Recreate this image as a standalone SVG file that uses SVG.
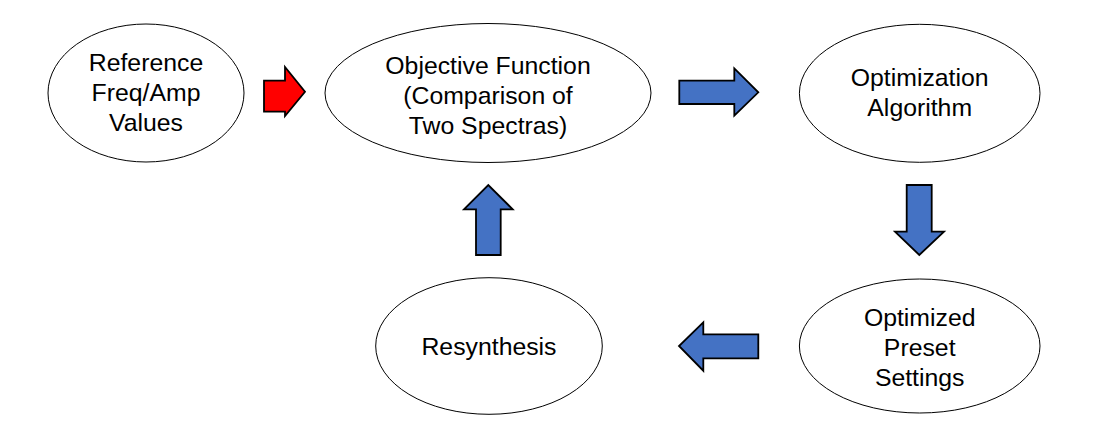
<svg xmlns="http://www.w3.org/2000/svg" width="1101" height="444" viewBox="0 0 1101 444">
<style>
.node ellipse{fill:#ffffff;stroke:#000000;stroke-width:1}
.node text{font-family:"Liberation Sans",Arial,sans-serif;font-size:24.8px;fill:#000000;text-anchor:middle}
.arr{stroke:#000000;stroke-width:1.8;stroke-linejoin:miter}
.blue{fill:#4472C4}
.red{fill:#FF0000}
</style>
<rect width="1101" height="444" fill="#ffffff"/>
<g id="n-reference" class="node">
<ellipse cx="146" cy="93" rx="98" ry="69"/>
<text x="146" y="71">Reference</text>
<text x="146" y="101">Freq/Amp</text>
<text x="146" y="131">Values</text>
</g>
<g id="n-objective" class="node">
<ellipse cx="488" cy="93" rx="163" ry="69.5"/>
<text x="488" y="73.5">Objective Function</text>
<text x="488" y="103.5">(Comparison of</text>
<text x="488" y="133.5">Two Spectras)</text>
</g>
<g id="n-optimization" class="node">
<ellipse cx="919.7" cy="93.3" rx="120.3" ry="69"/>
<text x="919.7" y="86">Optimization</text>
<text x="919.7" y="116">Algorithm</text>
</g>
<g id="n-optimized" class="node">
<ellipse cx="919.7" cy="346" rx="120.3" ry="67"/>
<text x="919.7" y="326">Optimized</text>
<text x="919.7" y="356">Preset</text>
<text x="919.7" y="386">Settings</text>
</g>
<g id="n-resynthesis" class="node">
<ellipse cx="489" cy="346" rx="113.3" ry="68.3"/>
<text x="489" y="355">Resynthesis</text>
</g>
<g id="connectors">
<polygon class="arr red" points="264,80.7 285,80.7 285,67 305,91.7 285,116 285,111.7 264,111.7"/>
<polygon class="arr blue" points="679.3,80.7 734.3,80.7 734.3,68.3 758.3,92.3 734.3,115.7 734.3,104 679.3,104"/>
<polygon class="arr blue" points="906.7,185 931.7,185 931.7,231.7 944,231.7 919.3,255 895,231.7 906.7,231.7"/>
<polygon class="arr blue" points="476,255 500.7,255 500.7,209.3 512.7,209.3 488.3,185 464,209.3 476,209.3"/>
<polygon class="arr blue" points="758.3,334.3 703.3,334.3 703.3,322.3 679,346 703.3,370.7 703.3,358.3 758.3,358.3"/>
</g>
</svg>
